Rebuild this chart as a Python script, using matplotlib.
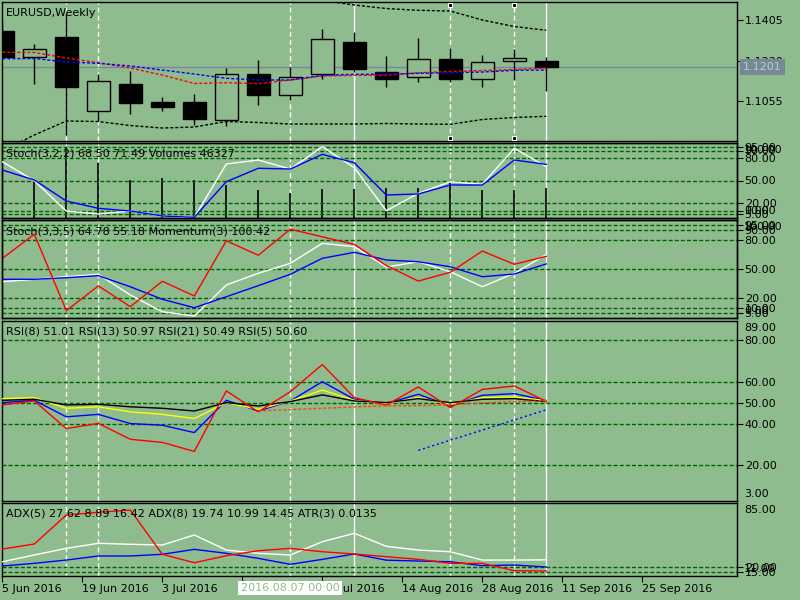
"""
EURUSD weekly chart with oscillator panes, MT4 look.
"""
import matplotlib
matplotlib.use('Agg')
import matplotlib.pyplot as plt

BG = '#8fbc8f'
LEVEL = '#006400'

# weekly candles, week of 5 Jun 2016 onwards
opens = [1.1358, 1.1247, 1.1332, 1.1011, 1.1129, 1.1051, 1.1051, 1.0972, 1.1172,
         1.1082, 1.1170, 1.1310, 1.1180, 1.1157, 1.1237, 1.1149, 1.1227, 1.1227]
highs = [1.1400, 1.1303, 1.1431, 1.1172, 1.1185, 1.1074, 1.1085, 1.1198, 1.1232,
         1.1203, 1.1366, 1.1353, 1.1249, 1.1326, 1.1283, 1.1254, 1.1280, 1.1244]
lows = [1.1240, 1.1130, 1.0908, 1.0970, 1.1000, 1.1013, 1.0953, 1.0948, 1.1039,
        1.1059, 1.1151, 1.1182, 1.1117, 1.1136, 1.1137, 1.1117, 1.1146, 1.1100]
closes = [1.1245, 1.1278, 1.1117, 1.1141, 1.1048, 1.1030, 1.0976, 1.1172, 1.1082,
          1.1157, 1.1322, 1.1195, 1.1151, 1.1235, 1.1151, 1.1222, 1.1240, 1.1201]
ma_red = [1.12654, 1.12646, 1.12408, 1.12205, 1.11976, 1.11673, 1.11306, 1.11341, 1.11298,
          1.11457, 1.11630, 1.11660, 1.11660, 1.11773, 1.11825, 1.11868, 1.11911, 1.11976]
ma_blue = [1.12378, 1.12386, 1.12235, 1.12179, 1.12062, 1.11889, 1.11717, 1.11531, 1.11457,
           1.11457, 1.11660, 1.11704, 1.11704, 1.11747, 1.11773, 1.11803, 1.11877, 1.11889]
band_up_start = 10
band_up = [1.14893, 1.14698, 1.14547, 1.14469, 1.14439, 1.14050, 1.13769, 1.13605]
band_low = [1.08390, 1.09081, 1.09686, 1.09664, 1.09491, 1.09383, 1.09427, 1.09664, 1.09621,
            1.09556, 1.09556, 1.09556, 1.09578, 1.09556, 1.09543, 1.09751, 1.09837, 1.09889]
bid = 1.1201
price_ticks = [1.1405, 1.1230, 1.1055]

# Stoch(3,2,2) + Volumes
sto1_main = [75.0, 49.7, 9.3, 5.3, 9.3, 2.7, 0.9, 72.0, 77.3, 65.3, 95.0, 67.1, 9.7, 32.9,
             48.4, 44.9, 92.9, 68.50]
sto1_sig = [64.0, 50.7, 22.7, 12.9, 9.3, 2.7, 0.9, 48.4, 66.3, 65.3, 84.9, 73.7, 30.7, 32.0,
            44.0, 44.0, 77.3, 71.49]
volumes = [55000, 58100, 107800, 84550, 58100, 61620, 58100, 50460, 42810, 37770, 44340,
           44340, 45400, 45400, 53060, 42810, 42810, 46327]

# Stoch(3,3,5) + Momentum(3)
sto2_main = [37.0, 39.5, 42.1, 44.6, 23.5, 6.4, 2.0, 33.7, 45.6, 55.8, 76.2, 72.8, 52.0, 57.4,
             47.2, 31.9, 45.6, 64.78]
sto2_sig = [39.5, 39.5, 41.1, 43.2, 31.9, 19.1, 10.5, 21.7, 33.0, 44.6, 60.9, 67.0, 59.2, 57.4,
            52.3, 42.1, 44.9, 55.18]
momentum = [100.32, 101.47, 97.83, 99.01, 98.02, 99.23, 98.53, 101.16, 100.47, 101.71, 101.35,
            100.99, 99.98, 99.24, 99.66, 100.67, 100.04, 100.42]
sto_levels = [95, 90, 80, 50, 20, 10, 5]

# RSI pane
rsi8 = [50.0, 51.1, 43.2, 44.4, 40.0, 39.2, 35.7, 51.1, 46.0, 50.8, 60.0, 51.6, 49.5, 54.0,
        48.4, 53.5, 54.3, 51.01]
rsi13 = [51.9, 52.4, 47.3, 48.0, 45.6, 44.4, 42.4, 50.0, 46.8, 50.8, 56.0, 51.1, 49.5, 52.4,
         49.2, 52.4, 52.7, 50.97]
rsi21 = [51.1, 51.6, 48.9, 49.2, 48.0, 47.3, 46.0, 50.0, 48.4, 50.5, 53.7, 50.8, 50.0, 51.9,
         50.0, 51.6, 51.9, 50.49]
rsi5 = [48.9, 50.8, 37.6, 40.1, 32.5, 31.0, 26.7, 55.6, 45.6, 55.2, 68.2, 52.4, 48.8, 57.5,
        47.6, 56.3, 57.95, 50.60]
rsi_ma_start = 8
rsi_ma = [46.05, 46.67, 47.29, 47.95, 48.43, 48.57, 48.9, 49.86, 50.48, 50.81]
trend_x = [13, 17]
trend_y = [27.2, 46.6]
rsi_levels = [80, 60, 50, 40, 20]

# ADX pane
adx_white = [25.7, 32.5, 39.2, 44.3, 43.3, 42.6, 52.7, 37.5, 34.2, 32.5, 45.9, 54.4, 41.3, 37.5,
             35.8, 27.4, 27.4, 27.62]
adx_blue = [21.4, 24.1, 27.4, 31.5, 31.5, 33.2, 38.2, 34.2, 29.1, 23.1, 28.1, 33.5, 27.3, 26.4,
            25.7, 21.7, 22.4, 20.4]
adx_red = [38.5, 43.6, 72.9, 75.6, 77.9, 33.2, 24.7, 31.8, 36.8, 39.2, 35.8, 33.5, 30.8, 28.1,
           24.1, 24.1, 16.6, 16.42]
adx_levels = [20, 15]

# time axis
date_pos = [0, 2.5, 5, 7.5, 10, 12.5, 15, 17.5, 20]
date_labels = ['5 Jun 2016', '19 Jun 2016', '3 Jul 2016', '17 Jul 2016', '31 Jul 2016',
               '14 Aug 2016', '28 Aug 2016', '11 Sep 2016', '25 Sep 2016']
cursor_pos = 7.32
cursor_label = '2016.08.07 00:00'

dash_marks = [2, 3, 9, 14, 16]
solid_marks = [11, 17]

plt.rcParams['lines.scale_dashes'] = False
plt.rcParams['font.family'] = 'DejaVu Sans'
plt.rcParams['font.size'] = 8

fig = plt.figure(figsize=(8, 6), dpi=100, facecolor=BG)
bars = list(range(len(closes)))


def right_ticks(ax):
    ax.yaxis.tick_right()
    ax.tick_params(axis='y', direction='out', length=4, width=0.8, pad=1.5,
                   labelsize=8, colors='black')


def pane(top, bottom):
    ax = fig.add_axes([2 / 800, 1 - bottom / 600, 735 / 800, (bottom - top) / 600])
    ax.set_facecolor(BG)
    ax.set_xlim(-0.01, 22.96)
    for s in ax.spines.values():
        s.set_color('black')
        s.set_linewidth(1.0)
    ax.tick_params(axis='x', bottom=False, labelbottom=False)
    right_ticks(ax)
    for b in dash_marks:
        ax.axvline(b, color='white', lw=1.0, dashes=(3.6, 2.2), zorder=0.5)
    for b in solid_marks:
        ax.axvline(b, color='white', lw=1.0, zorder=0.5)
    return ax


def overlay(ax):
    tw = ax.twinx()
    tw.set_xlim(-0.01, 22.96)
    tw.tick_params(axis='x', bottom=False, labelbottom=False, top=False)
    for s in tw.spines.values():
        s.set_color('black')
        s.set_linewidth(1.0)
    return tw


def levels(ax, vals, fmt, vmax, vmin):
    for v in vals:
        ax.axhline(v, color=LEVEL, lw=1.0, dashes=(2.9, 1.5), zorder=0.6)
    ax.set_yticks(vals)
    ax.set_yticklabels([fmt.format(v) for v in vals])
    ax.annotate(fmt.format(vmax), xy=(1, 1), xycoords='axes fraction', xytext=(7, -7),
                textcoords='offset pixels', ha='left', va='center', annotation_clip=False)
    ax.annotate(fmt.format(vmin), xy=(1, 0), xycoords='axes fraction', xytext=(7, 7),
                textcoords='offset pixels', ha='left', va='center', annotation_clip=False)


def title(ax, text):
    ax.annotate(text, xy=(0, 1), xycoords='axes fraction', xytext=(4, -11),
                textcoords='offset pixels', ha='left', va='center', zorder=10)


# price pane
ax1 = pane(2, 141)
ax1.set_ylim(1.08822, 1.14828)
ax1.set_yticks(price_ticks)
ax1.set_yticklabels(['{:.4f}'.format(p) for p in price_ticks])
ax1.axhline(bid, color='#778899', lw=1.0, zorder=0.7)
ax1.vlines(bars, lows, highs, color='black', lw=1.0, zorder=1.5)
body_lo = [min(o, c) for o, c in zip(opens, closes)]
body_h = [abs(c - o) for o, c in zip(opens, closes)]
body_fc = ['black' if c < o else BG for o, c in zip(opens, closes)]
ax1.bar(bars, body_h, bottom=body_lo, width=0.72, color=body_fc, edgecolor='black',
        linewidth=1.0, zorder=2)
ax1.plot(bars, ma_red, color='red', lw=1.0, dashes=(2.2, 1.4), zorder=3)
ax1.plot(bars, ma_blue, color='blue', lw=1.0, dashes=(2.2, 1.4), zorder=3)
ax1.plot(range(band_up_start, band_up_start + len(band_up)), band_up, color='black', lw=1.0,
         dashes=(2.2, 1.4), zorder=3)
ax1.plot(bars, band_low, color='black', lw=1.0, dashes=(2.2, 1.4), zorder=3)
tr = ax1.get_xaxis_transform()
for b in (14, 16):
    ax1.plot([b, b], [0.978, 0.022], transform=tr, ls='none', marker='s', ms=3.2,
             mfc='black', mec='white', mew=0.8, zorder=5, clip_on=False)
ax1.annotate('{:.4f}'.format(bid), xy=(1, bid), xycoords=('axes fraction', 'data'),
             xytext=(6, 0), textcoords='offset pixels', ha='left', va='center',
             color='#b8d0b8', annotation_clip=False,
             bbox=dict(boxstyle='square,pad=0.25', fc='#778899', ec='none'))
title(ax1, 'EURUSD,Weekly')

# Stoch(3,2,2) + Volumes
ax2v = pane(143, 218)
ax2v.set_ylim(0, 114700)
ax2v.vlines(bars, 0, volumes, color='black', lw=1.2, zorder=2)
ax2 = overlay(ax2v)
ax2v.set_yticks([])
ax2v.tick_params(axis='y', left=False, right=False, labelleft=False, labelright=False)
ax2.set_ylim(0, 100)
right_ticks(ax2)
levels(ax2, sto_levels, '{:.2f}', 100, 0)
ax2.plot(bars, sto1_main, color='white', lw=1.0, zorder=3)
ax2.plot(bars, sto1_sig, color='blue', lw=1.0, zorder=3)
title(ax2, 'Stoch(3,2,2) 68.50 71.49 Volumes 46327')

# Stoch(3,3,5) + Momentum(3)
ax3 = pane(220, 318)
ax3.set_ylim(0, 100)
levels(ax3, sto_levels, '{:.2f}', 100, 0)
ax3.plot(bars, sto2_main, color='white', lw=1.0, zorder=3)
ax3.plot(bars, sto2_sig, color='blue', lw=1.0, zorder=3)
ax3m = overlay(ax3)
right_ticks(ax3)
ax3m.set_ylim(97.48, 102.15)
ax3m.set_yticks([])
ax3m.tick_params(axis='y', left=False, right=False, labelleft=False, labelright=False)
ax3m.plot(bars, momentum, color='red', lw=1.0)
title(ax3m, 'Stoch(3,3,5) 64.78 55.18 Momentum(3) 100.42')

# RSI
ax4 = pane(321, 501)
ax4.set_ylim(3, 89)
levels(ax4, rsi_levels, '{:.2f}', 89, 3)
ax4.plot(bars, rsi8, color='blue', lw=1.0, zorder=3)
ax4.plot(bars, rsi13, color='yellow', lw=1.0, zorder=3)
ax4.plot(bars, rsi21, color='black', lw=1.0, zorder=3)
ax4.plot(bars, rsi5, color='red', lw=1.0, zorder=3)
ax4.plot(range(rsi_ma_start, rsi_ma_start + len(rsi_ma)), rsi_ma, color='#ff4500', lw=1.0,
         dashes=(2.2, 1.4), zorder=3)
ax4.plot(trend_x, trend_y, color='blue', lw=1.0, dashes=(1.5, 2.0), zorder=3)
title(ax4, 'RSI(8) 51.01 RSI(13) 50.97 RSI(21) 50.49 RSI(5) 50.60')

# ADX + ATR
ax5 = pane(503, 576)
ax5.set_ylim(11.3, 85)
levels(ax5, adx_levels, '{:.2f}', 85, 11)
ax5.plot(bars, adx_white, color='white', lw=1.0, zorder=3)
ax5.plot(bars, adx_blue, color='blue', lw=1.0, zorder=3)
ax5.plot(bars, adx_red, color='red', lw=1.0, zorder=3)
title(ax5, 'ADX(5) 27.62 8.89 16.42 ADX(8) 19.74 10.99 14.45 ATR(3) 0.0135')
ax5.set_xticks(date_pos)
ax5.set_xticklabels(date_labels, ha='left')
ax5.tick_params(axis='x', bottom=True, labelbottom=True, direction='out', length=4,
                width=0.8, pad=2, labelsize=8, colors='black')
ax5.annotate(cursor_label, xy=(cursor_pos, 0), xycoords=('data', 'axes fraction'),
             xytext=(4, -12), textcoords='offset pixels', ha='left', va='center',
             color=BG, annotation_clip=False, zorder=10,
             bbox=dict(boxstyle='square,pad=0.2', fc='white', ec='none'))

plt.savefig('out.png', dpi=100, facecolor=BG)
